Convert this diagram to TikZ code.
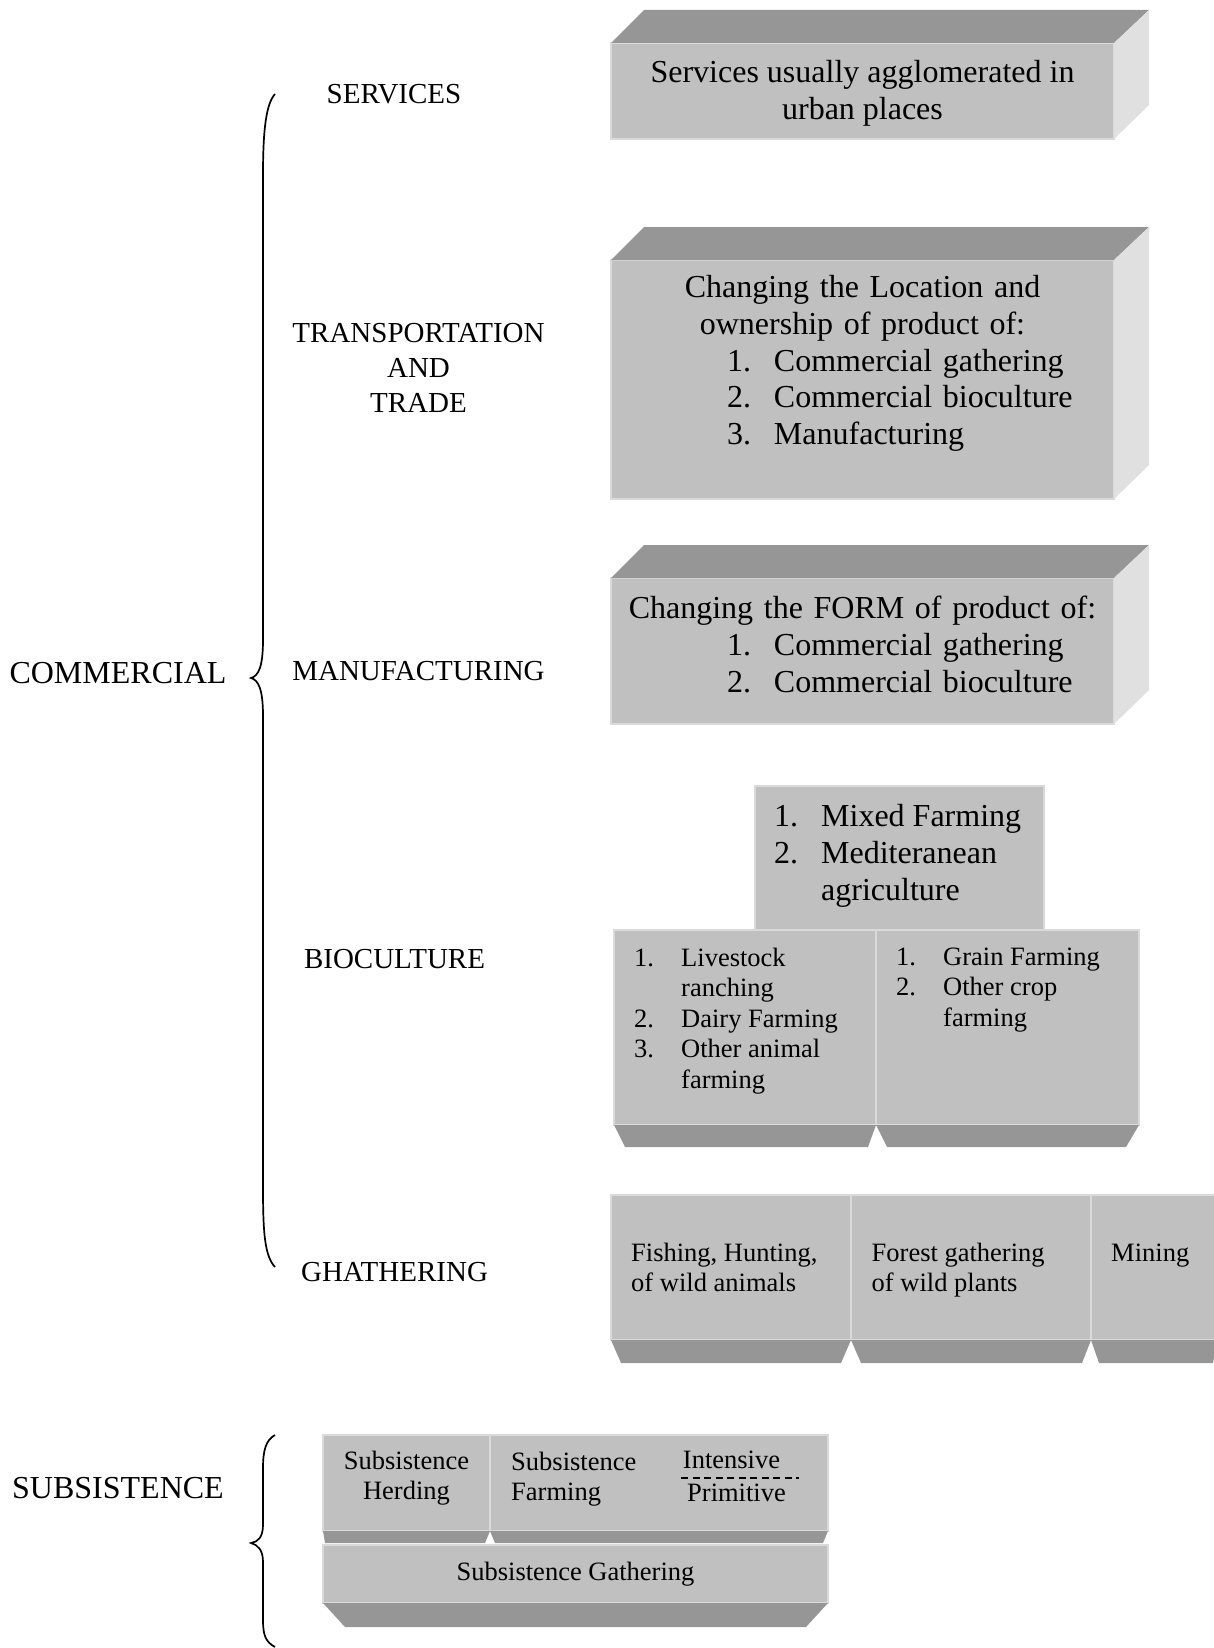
\documentclass[tikz,border=0pt]{standalone}
\usepackage{fontspec}
\setmainfont{Liberation Serif}
\usetikzlibrary{positioning}

\definecolor{facegray}{RGB}{192,192,192}
\definecolor{topgray}{RGB}{150,150,150}
\definecolor{sidegray}{RGB}{224,224,224}
\definecolor{edgegray}{RGB}{218,218,218}

\newcommand{\itm}[1]{\makebox[47pt][l]{#1}}
% top and right face of a cube
\newcommand{\cubefaces}[1]{%
  \fill[topface] (#1.north west) -- ++(33,-33) -- ([shift={(35,-33)}]#1.north east) -- (#1.north east) -- cycle;
  \fill[sideface] (#1.north east) -- ++(35,-33) -- ([shift={(35,-34)}]#1.south east) -- (#1.south east) -- cycle;}
% bottom face: node, depth, left indent, right indent
\newcommand{\bevel}[4]{%
  \fill[topface] (#1.south west) -- (#1.south east) -- ([shift={(-#4,#2)}]#1.south east) -- ([shift={(#3,#2)}]#1.south west) -- cycle;}

\begin{document}
\begin{tikzpicture}[x=1pt, y=-1pt,
    box/.style={rectangle, fill=facegray, draw=edgegray, line width=1.5pt, inner sep=0pt, outer sep=0pt, anchor=north west},
    topface/.style={fill=topgray},
    sideface/.style={fill=sidegray},
    bigtxt/.style={font=\fontsize{32}{36.8}\selectfont, align=left, inner sep=0pt},
    smalltxt/.style={font=\fontsize{26.5}{30.5}\selectfont, align=left, inner sep=0pt},
    lbl/.style={font=\fontsize{29}{34.6}\selectfont, align=center, inner sep=0pt},
    biglbl/.style={font=\fontsize{32}{36.8}\selectfont, inner sep=0pt},
    brace/.style={draw=black, line width=1.7pt}]
    \useasboundingbox (0,0) rectangle (1213,1648);

    % services
    \node(svc) [box, minimum width=503pt, minimum height=96pt] at (611,43) {};
    \cubefaces{svc}
    \node(svctxt) [bigtxt, align=center] at (862.5,93)
        {Services usually agglomerated in\\urban places};

    % transportation and trade
    \node(trans) [box, minimum width=503pt, minimum height=239pt] at (611,260) {};
    \cubefaces{trans}
    \node(transtxt) [bigtxt, text width=503pt] at (862.5,363.5)
        {\makebox[503pt]{Changing the Location and}\\
         \makebox[503pt]{ownership of product of:}\\
         \hspace*{116pt}\itm{1.}Commercial gathering\\
         \hspace*{116pt}\itm{2.}Commercial bioculture\\
         \hspace*{116pt}\itm{3.}Manufacturing};

    % manufacturing
    \node(manu) [box, minimum width=503pt, minimum height=146pt] at (611,578) {};
    \cubefaces{manu}
    \node(manutxt) [bigtxt, text width=503pt] at (862.5,644.5)
        {\makebox[503pt]{Changing the FORM of product of:}\\
         \hspace*{116pt}\itm{1.}Commercial gathering\\
         \hspace*{116pt}\itm{2.}Commercial bioculture};

    % bioculture
    \node(biotop) [box, minimum width=289pt, minimum height=144pt] at (755,786) {};
    \node(bioleft) [box, minimum width=262pt, minimum height=195pt] at (614,930) {};
    \node(bioright) [box, minimum width=263pt, minimum height=195pt, right=0pt of bioleft] {};
    \bevel{bioleft}{22}{11}{8}
    \bevel{bioright}{22}{11}{13}
    \node(biotoptxt) [bigtxt, anchor=west] at (774,856)
        {\itm{1.}Mixed Farming\\ \itm{2.}Mediteranean\\ \hspace*{47pt}agriculture};
    \node(biolefttxt) [smalltxt, anchor=west] at (634,1021)
        {\itm{1.}Livestock\\ \hspace*{47pt}ranching\\ \itm{2.}Dairy Farming\\
         \itm{3.}Other animal\\ \hspace*{47pt}farming};
    \node(biorighttxt) [smalltxt, anchor=west] at (896,990)
        {\itm{1.}Grain Farming\\ \itm{2.}Other crop\\ \hspace*{47pt}farming};

    % gathering
    \node(fish) [box, minimum width=240pt, minimum height=145pt] at (611,1195) {};
    \node(forest) [box, minimum width=240pt, minimum height=145pt, right=0pt of fish] {};
    \node(mining) [box, minimum width=126pt, minimum height=145pt, right=0pt of forest] {};
    \bevel{fish}{23}{10}{10}
    \bevel{forest}{23}{10}{9}
    \bevel{mining}{23}{8}{4}
    \node(fishtxt) [smalltxt, anchor=west] at (631,1267.6) {Fishing, Hunting,\\of wild animals};
    \node(foresttxt) [smalltxt, anchor=west] at (871.5,1270) {Forest gathering\\of wild plants};
    \node(miningtxt) [smalltxt, anchor=west] at (1111,1256) {Mining};

    % subsistence
    \node(herd) [box, minimum width=167pt, minimum height=96pt] at (323,1435) {};
    \node(farm) [box, minimum width=338pt, minimum height=96pt, right=0pt of herd] {};
    \bevel{herd}{12}{2}{5}
    \bevel{farm}{12}{5}{5}
    \node(gath) [box, smalltxt, align=center, minimum width=505pt, minimum height=58pt] at (323,1545)
        {Subsistence Gathering};
    \bevel{gath}{24}{22}{22}
    \node(herdtxt) [smalltxt, align=center] at (406.5,1478) {Subsistence\\Herding};
    \node(farmtxt) [smalltxt, anchor=west] at (511,1479) {Subsistence\\Farming};
    \node(intens) [smalltxt] at (731.5,1460) {Intensive};
    \node(primit) [smalltxt] at (736.5,1492.6) {Primitive};
    \draw[line width=1.5pt, dash pattern=on 7pt off 4.5pt] (681,1478) -- (799,1478);

    %%%%% labels %%%%%
    \node(lsvc) [lbl] at (394,94.6) {SERVICES};
    \node(ltrans) [lbl] at (418.5,368) {TRANSPORTATION\\AND\\TRADE};
    \node(lmanu) [lbl] at (418.5,670.6) {MANUFACTURING};
    \node(lbio) [lbl] at (394.5,958.6) {BIOCULTURE};
    \node(lgath) [lbl] at (394.5,1271.8) {GHATHERING};
    \node(lcom) [biglbl] at (118,672.7) {COMMERCIAL};
    \node(lsub) [biglbl] at (118,1488.4) {SUBSISTENCE};

    % braces
    \draw[brace] (275,94) .. controls (266,104) and (263,130) .. (263,175) -- (263,640)
        .. controls (263,668) and (258,676) .. (251,678) .. controls (258,680) and (263,688) .. (263,716)
        -- (263,1188) .. controls (263,1235) and (265,1256) .. (275,1267);
    \draw[brace] (275,1435) .. controls (266,1440) and (263,1450) .. (263,1468) -- (263,1525)
        .. controls (263,1537) and (258,1542) .. (251,1543) .. controls (258,1545) and (263,1550) .. (263,1562)
        -- (263,1620) .. controls (263,1636) and (266,1642) .. (275,1647);

  \end{tikzpicture}
\end{document}
